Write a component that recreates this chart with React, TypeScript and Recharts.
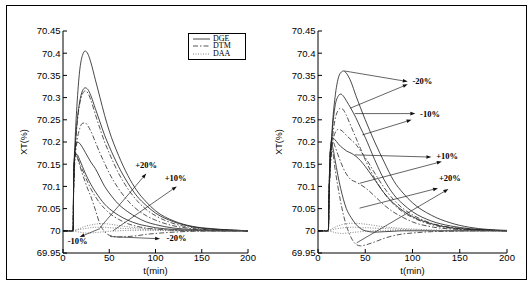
import React from 'react';
import { LineChart, Line, XAxis, YAxis, ReferenceLine, ReferenceDot, Legend } from 'recharts';

// sample times (min)
const T = [0, 11, 11.5, 13, 15, 18, 21, 24, 27, 30, 35, 40, 45, 50, 60, 70, 80, 90, 100, 120, 140, 160, 180, 200];

// ---- panel (a) ----
const A_DGE_M20 = [70, 70, 70.11, 70.2, 70.28, 70.36, 70.395, 70.405, 70.398, 70.38, 70.34, 70.3, 70.26, 70.225, 70.17, 70.125, 70.09, 70.065, 70.045, 70.022, 70.01, 70.005, 70.002, 70];
const A_DGE_M10 = [70, 70, 70.11, 70.18, 70.24, 70.29, 70.315, 70.322, 70.318, 70.305, 70.275, 70.245, 70.215, 70.19, 70.145, 70.108, 70.078, 70.057, 70.04, 70.02, 70.009, 70.004, 70.002, 70];
const A_DTM_M20 = [70, 70, 70.11, 70.175, 70.235, 70.285, 70.308, 70.315, 70.31, 70.295, 70.262, 70.23, 70.2, 70.175, 70.13, 70.095, 70.068, 70.048, 70.034, 70.016, 70.007, 70.003, 70.001, 70];
const A_DTM_M10 = [70, 70, 70.1, 70.16, 70.2, 70.23, 70.242, 70.243, 70.236, 70.225, 70.2, 70.175, 70.152, 70.13, 70.095, 70.068, 70.048, 70.034, 70.024, 70.011, 70.005, 70.002, 70.001, 70];
const A_DGE_P10 = [70, 70, 70.11, 70.18, 70.2, 70.197, 70.188, 70.177, 70.166, 70.155, 70.14, 70.12, 70.1, 70.085, 70.06, 70.043, 70.03, 70.02, 70.014, 70.006, 70.003, 70.001, 70, 70];
const A_DTM_P10 = [70, 70, 70.1, 70.175, 70.168, 70.152, 70.137, 70.122, 70.108, 70.095, 70.077, 70.062, 70.05, 70.04, 70.026, 70.016, 70.01, 70.006, 70.004, 70.001, 70, 70, 70, 70];
const A_DGE_P20 = [70, 70, 70.1, 70.17, 70.172, 70.16, 70.145, 70.13, 70.117, 70.105, 70.088, 70.073, 70.06, 70.05, 70.035, 70.024, 70.016, 70.011, 70.007, 70.003, 70.001, 70, 70, 70];
const A_DTM_P20 = [70, 70, 70.1, 70.178, 70.168, 70.148, 70.128, 70.11, 70.093, 70.078, 70.047, 70.015, 69.998, 69.99, 69.986, 69.987, 69.989, 69.992, 69.994, 69.997, 69.999, 70, 70, 70];
const A_DAA_1 = [70, 70, 70, 70.001, 70.003, 70.005, 70.008, 70.01, 70.012, 70.013, 70.015, 70.016, 70.016, 70.015, 70.012, 70.009, 70.007, 70.005, 70.004, 70.002, 70.001, 70, 70, 70];
const A_DAA_2 = [70, 70, 70, 70.001, 70.002, 70.003, 70.004, 70.005, 70.006, 70.007, 70.008, 70.008, 70.008, 70.007, 70.006, 70.005, 70.004, 70.003, 70.002, 70.001, 70, 70, 70, 70];
const A_DAA_3 = [70, 70, 70, 69.999, 69.998, 69.997, 69.996, 69.995, 69.995, 69.995, 69.996, 69.997, 69.998, 69.999, 70, 70.001, 70.001, 70.001, 70.001, 70, 70, 70, 70, 70];

// ---- panel (b) ----
const B_DGE_M20 = [70, 70, 70.06, 70.15, 70.23, 70.3, 70.34, 70.356, 70.36, 70.355, 70.335, 70.305, 70.277, 70.25, 70.2, 70.155, 70.113, 70.085, 70.063, 70.035, 70.018, 70.008, 70.003, 70.001];
const B_DTM_M20 = [70, 70, 70.06, 70.14, 70.2, 70.25, 70.27, 70.276, 70.272, 70.26, 70.235, 70.21, 70.185, 70.16, 70.118, 70.085, 70.06, 70.042, 70.03, 70.014, 70.006, 70.003, 70.001, 70];
const B_DGE_M10 = [70, 70, 70.06, 70.15, 70.22, 70.28, 70.302, 70.308, 70.303, 70.293, 70.275, 70.255, 70.232, 70.21, 70.16, 70.115, 70.082, 70.06, 70.043, 70.022, 70.011, 70.005, 70.002, 70];
const B_DTM_M10 = [70, 70, 70.06, 70.14, 70.19, 70.22, 70.228, 70.227, 70.222, 70.215, 70.205, 70.195, 70.18, 70.165, 70.13, 70.097, 70.07, 70.05, 70.036, 70.017, 70.008, 70.004, 70.002, 70];
const B_DGE_P10 = [70, 70, 70.06, 70.18, 70.21, 70.205, 70.197, 70.19, 70.185, 70.18, 70.175, 70.168, 70.158, 70.145, 70.115, 70.085, 70.062, 70.045, 70.032, 70.016, 70.007, 70.003, 70.001, 70];
const B_DTM_P10 = [70, 70, 70.06, 70.18, 70.205, 70.19, 70.172, 70.155, 70.14, 70.128, 70.115, 70.11, 70.104, 70.097, 70.078, 70.058, 70.042, 70.03, 70.02, 70.009, 70.004, 70.002, 70.001, 70];
const B_DGE_P20 = [70, 70, 70.06, 70.18, 70.19, 70.16, 70.125, 70.095, 70.07, 70.05, 70.03, 70.015, 70.005, 70, 69.997, 69.998, 69.999, 70, 70, 70, 70, 70, 70, 70];
const B_DTM_P20 = [70, 70, 70.06, 70.17, 70.18, 70.14, 70.1, 70.065, 70.035, 70.012, 69.985, 69.97, 69.966, 69.968, 69.975, 69.983, 69.989, 69.993, 69.995, 69.998, 69.999, 70, 70, 70];
const B_DAA_1 = [70, 70, 70, 70.002, 70.005, 70.008, 70.011, 70.013, 70.015, 70.016, 70.017, 70.017, 70.016, 70.015, 70.012, 70.009, 70.007, 70.005, 70.004, 70.002, 70.001, 70, 70, 70];
const B_DAA_2 = [70, 70, 70, 70.001, 70.002, 70.004, 70.005, 70.006, 70.007, 70.007, 70.008, 70.008, 70.007, 70.007, 70.006, 70.005, 70.004, 70.003, 70.002, 70.001, 70, 70, 70, 70];
const B_DAA_3 = [70, 70, 70, 69.999, 69.998, 69.996, 69.995, 69.994, 69.994, 69.995, 69.996, 69.997, 69.998, 69.999, 70, 70, 70.001, 70.001, 70.001, 70, 70, 70, 70, 70];

const X_TICKS = [0, 50, 100, 150, 200];
const Y_TICKS = [69.95, 70, 70.05, 70.1, 70.15, 70.2, 70.25, 70.3, 70.35, 70.4, 70.45];

// annotation arrows: [t0, y0, t1, y1] and labels
const A_ARROWS = [
  [40, 70.007, 90, 70.129],
  [54, 70.0, 123, 70.1],
  [40, 70.005, 18, 69.986],
  [51, 69.987, 105, 69.982],
];
const A_LABELS: [string, number, number][] = [
  ['+20%', 78, 70.145],
  ['+10%', 110, 70.117],
  ['-10%', 5, 69.975],
  ['-20%', 112, 69.981],
];
const B_ARROWS = [
  [28, 70.36, 95, 70.336],
  [34, 70.276, 95, 70.33],
  [39, 70.264, 103, 70.264],
  [47, 70.216, 99, 70.25],
  [39, 70.171, 120, 70.166],
  [44, 70.107, 131, 70.156],
  [44, 70.051, 127, 70.096],
  [41, 69.973, 138, 70.094],
];
const B_LABELS: [string, number, number][] = [
  ['-20%', 100, 70.335],
  ['-10%', 108, 70.26],
  ['+10%', 125, 70.166],
  ['+20%', 128, 70.117],
];

const LEGEND_ITEMS = ['DGE', 'DTM', 'DAA'];

const DASH: Record<string, string | undefined> = {
  DGE: undefined,
  DTM: '5 2 1.5 2',
  DAA: '1 1.5',
};
const STROKE: Record<string, string> = { DGE: '#1a1a1a', DTM: '#2a2a2a', DAA: '#666' };

const A_SERIES = [
  { key: 'a1', kind: 'DGE', values: A_DGE_M20 },
  { key: 'a2', kind: 'DGE', values: A_DGE_M10 },
  { key: 'a3', kind: 'DTM', values: A_DTM_M20 },
  { key: 'a4', kind: 'DTM', values: A_DTM_M10 },
  { key: 'a5', kind: 'DGE', values: A_DGE_P10 },
  { key: 'a6', kind: 'DTM', values: A_DTM_P10 },
  { key: 'a7', kind: 'DGE', values: A_DGE_P20 },
  { key: 'a8', kind: 'DTM', values: A_DTM_P20 },
  { key: 'a9', kind: 'DAA', values: A_DAA_1 },
  { key: 'a10', kind: 'DAA', values: A_DAA_2 },
  { key: 'a11', kind: 'DAA', values: A_DAA_3 },
];
const B_SERIES = [
  { key: 'b1', kind: 'DGE', values: B_DGE_M20 },
  { key: 'b2', kind: 'DTM', values: B_DTM_M20 },
  { key: 'b3', kind: 'DGE', values: B_DGE_M10 },
  { key: 'b4', kind: 'DTM', values: B_DTM_M10 },
  { key: 'b5', kind: 'DGE', values: B_DGE_P10 },
  { key: 'b6', kind: 'DTM', values: B_DTM_P10 },
  { key: 'b7', kind: 'DGE', values: B_DGE_P20 },
  { key: 'b8', kind: 'DTM', values: B_DTM_P20 },
  { key: 'b9', kind: 'DAA', values: B_DAA_1 },
  { key: 'b10', kind: 'DAA', values: B_DAA_2 },
  { key: 'b11', kind: 'DAA', values: B_DAA_3 },
];

const SANS = '"Liberation Sans", Arial, sans-serif';
const SERIF = '"Liberation Serif", "Times New Roman", serif';

function buildRows(series: any[]) {
  return T.map((t, i) => {
    const row: any = { t };
    series.forEach((s) => (row[s.key] = s.values[i]));
    return row;
  });
}

// line with a small filled arrow head at the end
function Arrow(p: any) {
  const { x1, y1, x2, y2 } = p;
  const a = Math.atan2(y2 - y1, x2 - x1);
  const L = 5, W = 1.8;
  const bx = x2 - L * Math.cos(a), by = y2 - L * Math.sin(a);
  const pts = `${x2},${y2} ${bx + W * Math.sin(a)},${by - W * Math.cos(a)} ${bx - W * Math.sin(a)},${by + W * Math.cos(a)}`;
  return (
    <g>
      <line x1={x1} y1={y1} x2={bx} y2={by} stroke="#222" strokeWidth={0.7} />
      <polygon points={pts} fill="#111" />
    </g>
  );
}

function LegendBox() {
  return (
    <div style={{ border: '1px solid #000', background: '#fff', width: 56, padding: '1px 0' }}>
      {LEGEND_ITEMS.map((name) => (
        <div key={name} style={{ display: 'flex', alignItems: 'center', height: 7.6 }}>
          <svg width={24} height={6}>
            <line x1={4} y1={3} x2={21} y2={3} stroke={STROKE[name]} strokeWidth={0.8} strokeDasharray={DASH[name]} />
          </svg>
          <span style={{ fontFamily: SERIF, fontSize: 8, lineHeight: '8px', color: '#000' }}>{name}</span>
        </div>
      ))}
    </div>
  );
}

function Panel({ series, arrows, labels, title, margin, showLegend }: any) {
  const rows = buildRows(series);
  const tickStyle = { fontSize: 9.5, fill: '#000', fontFamily: SANS };
  return (
    <LineChart width={265} height={286} data={rows} margin={margin}>
      <XAxis
        dataKey="t"
        type="number"
        domain={[0, 200]}
        ticks={X_TICKS}
        allowDataOverflow
        height={20}
        tickSize={-4}
        tickMargin={5}
        stroke="#000"
        tick={tickStyle}
        label={{ value: 't(min)', position: 'insideBottom', offset: -1, fontSize: 9.5, fill: '#000', fontFamily: SANS }}
      />
      <XAxis
        xAxisId="top"
        orientation="top"
        dataKey="t"
        type="number"
        domain={[0, 200]}
        ticks={X_TICKS}
        allowDataOverflow
        height={0}
        tickSize={-4}
        stroke="#000"
        tickFormatter={() => ''}
        label={{ value: title, position: 'top', offset: 4.5, fontSize: 8, fontWeight: 'bold', fill: '#000', fontFamily: SERIF }}
      />
      <YAxis
        type="number"
        domain={[69.95, 70.45]}
        ticks={Y_TICKS}
        allowDataOverflow
        width={50}
        tickSize={-4}
        tickMargin={6.5}
        stroke="#000"
        tick={tickStyle}
        label={{
          content: (p: any) => {
            const vb = p.viewBox || { x: 0, y: 31, width: 50, height: 222 };
            return (
              <text
                transform={`translate(${vb.x + 12},${vb.y + vb.height / 2}) rotate(-90)`}
                textAnchor="middle"
                dominantBaseline="middle"
                fontSize={9}
                fontFamily={SANS}
                fill="#000"
              >
                XT(%)
              </text>
            );
          },
        }}
      />
      <YAxis
        yAxisId="right"
        orientation="right"
        type="number"
        domain={[69.95, 70.45]}
        ticks={Y_TICKS}
        allowDataOverflow
        width={0}
        tickSize={-4}
        stroke="#000"
        tickFormatter={() => ''}
      />
      {series.map((s: any) => (
        <Line
          key={s.key}
          dataKey={s.key}
          type="monotone"
          stroke={STROKE[s.kind]}
          strokeWidth={0.8}
          strokeDasharray={DASH[s.kind]}
          dot={false}
          activeDot={false}
          isAnimationActive={false}
        />
      ))}
      {arrows.map((a: number[], i: number) => (
        <ReferenceLine
          key={'ar' + i}
          segment={[{ x: a[0], y: a[1] }, { x: a[2], y: a[3] }]}
          ifOverflow="visible"
          shape={Arrow}
        />
      ))}
      {labels.map((l: [string, number, number], i: number) => (
        <ReferenceDot
          key={'lb' + i}
          x={l[1]}
          y={l[2]}
          r={0}
          ifOverflow="visible"
          shape={(p: any) => (
            <text x={p.cx} y={p.cy} dominantBaseline="middle" fontSize={8.5} fontWeight="bold" fontFamily={SERIF} fill="#000">
              {l[0]}
            </text>
          )}
        />
      ))}
      {showLegend && (
        <Legend
          layout="horizontal"
          verticalAlign="middle"
          align="center"
          content={() => <LegendBox />}
          wrapperStyle={{ left: 188, top: 33, width: 'auto' }}
        />
      )}
    </LineChart>
  );
}

export default function App() {
  return (
    <div style={{ position: 'absolute', left: 0, top: 0, width: 531, height: 286, background: '#fff', overflow: 'hidden' }}>
      <div
        style={{
          position: 'absolute',
          left: 6,
          top: 5,
          width: 521,
          height: 275,
          border: '1.5px solid #000',
          boxSizing: 'border-box',
        }}
      />
      <div style={{ position: 'absolute', left: 0, top: 0 }}>
        <Panel
          series={A_SERIES}
          arrows={A_ARROWS}
          labels={A_LABELS}
          title="(a)"
          margin={{ top: 31, right: 17, left: 13, bottom: 13 }}
          showLegend
        />
      </div>
      <div style={{ position: 'absolute', left: 260, top: 0 }}>
        <Panel
          series={B_SERIES}
          arrows={B_ARROWS}
          labels={B_LABELS}
          title="(b)"
          margin={{ top: 31, right: 18, left: 8, bottom: 13 }}
        />
      </div>
    </div>
  );
}
